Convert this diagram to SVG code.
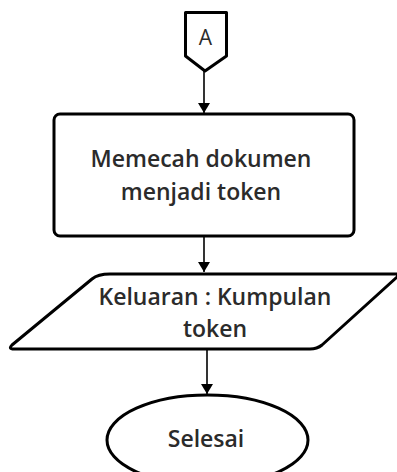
<svg xmlns="http://www.w3.org/2000/svg" width="397" height="472" viewBox="0 0 397 472">
  <defs>
    <style>
      .shape { fill: #ffffff; stroke: #000000; stroke-width: 3; stroke-linejoin: round; }
      .label { font-family: "Open Sans", "Noto Sans", "Liberation Sans", sans-serif; font-size: 23px; font-weight: 600; fill: #2b2b2b; text-anchor: middle; }
      .flow { fill: none; stroke: #000000; stroke-width: 1.6; }
    </style>
    <marker id="arrow" viewBox="0 0 10 12" refX="10" refY="6" markerWidth="10" markerHeight="12" markerUnits="userSpaceOnUse" orient="auto">
      <path d="M0,0 L10,6 L0,12 Z" fill="#000000"/>
    </marker>
  </defs>
  <rect width="397" height="472" fill="#ffffff"/>

  <!-- connectors -->
  <g id="connectors">
    <line class="flow" x1="204" y1="71" x2="204" y2="113" marker-end="url(#arrow)"/>
    <line class="flow" x1="204" y1="237" x2="204" y2="272" marker-end="url(#arrow)"/>
    <line class="flow" x1="207" y1="350" x2="207" y2="394" marker-end="url(#arrow)"/>
  </g>

  <!-- off-page connector A -->
  <g id="node-a">
    <path class="shape" d="M185.5,12.5 L226.5,12.5 L226.5,56 L205,71 L185.5,56 Z"/>
    <text class="label" x="205.5" y="45" style="font-size:21px;font-weight:400">A</text>
  </g>

  <!-- process step -->
  <g id="node-tokenize">
    <rect class="shape" x="54" y="114" width="300" height="122" rx="6" ry="6"/>
    <text class="label" x="201" y="167">Memecah dokumen</text>
    <text class="label" x="201" y="200">menjadi token</text>
  </g>

  <!-- output -->
  <g id="node-output">
    <path class="shape" d="M110,274 L396,274 Q399,274 397,277 L322,345 Q317,349 310,349 L14,349 Q8,349 12,345 L92,279 Q98,274 110,274 Z"/>
    <text class="label" x="215" y="305">Keluaran : Kumpulan</text>
    <text class="label" x="215" y="337">token</text>
  </g>

  <!-- terminator -->
  <g id="node-end">
    <ellipse class="shape" cx="207.5" cy="440" rx="100.5" ry="45"/>
    <text class="label" x="206" y="447">Selesai</text>
  </g>
</svg>
